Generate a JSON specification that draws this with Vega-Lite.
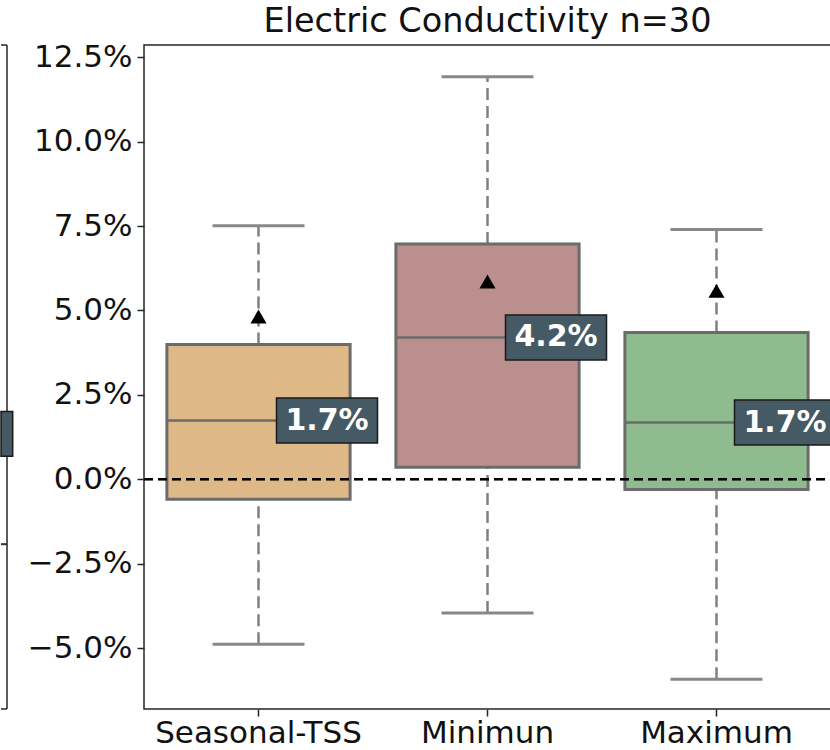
{
  "$schema": "https://vega.github.io/schema/vega-lite/v6.json",
  "padding": {"left": 0, "top": 3, "right": 0, "bottom": 0},
  "background": "white",
  "bounds": "flush",
  "spacing": 137,
  "config": {
    "font": "DejaVu Sans",
    "view": {"stroke": "#262626", "strokeWidth": 1.5},
    "axis": {"grid": false, "domain": false, "labelFont": "DejaVu Sans", "labelFontSize": 31, "labelColor": "#111111", "tickColor": "#262626", "tickWidth": 1.5, "tickSize": 7, "title": null, "labelLimit": 0}
  },
  "hconcat": [
    {
      "width": 6,
      "height": 664,
      "view": {"stroke": null},
      "data": {"values": [{"line": -1.92, "label_lo": 0.68, "label_hi": 2.01}]},
      "layer": [
        {"mark": {"type": "rule", "color": "#262626", "strokeWidth": 1.5},
         "encoding": {"x": {"datum": 0, "type": "quantitative", "scale": {"domain": [0, 1]}, "axis": null}, "x2": {"datum": 1}, "y": {"datum": 12.86, "type": "quantitative", "scale": {"domain": [-6.8, 12.86], "nice": false, "zero": false}, "axis": null}}},
        {"mark": {"type": "rule", "color": "#262626", "strokeWidth": 1.5},
         "encoding": {"x": {"datum": 0, "type": "quantitative"}, "x2": {"datum": 1}, "y": {"datum": -6.8, "type": "quantitative"}}},
        {"mark": {"type": "rule", "color": "#262626", "strokeWidth": 1.5},
         "encoding": {"x": {"datum": 1, "type": "quantitative"}, "y": {"datum": -6.8, "type": "quantitative"}, "y2": {"datum": 12.86}}},
        {"mark": {"type": "rule", "color": "#333333", "strokeWidth": 2},
         "encoding": {"x": {"datum": 0, "type": "quantitative"}, "x2": {"datum": 1}, "y": {"field": "line", "type": "quantitative"}}},
        {"mark": {"type": "rect", "color": "#455A64", "stroke": "#1a1a1a", "strokeWidth": 1.5},
         "encoding": {"x": {"datum": 0, "type": "quantitative"}, "x2": {"datum": 1.95}, "y": {"field": "label_lo", "type": "quantitative"}, "y2": {"field": "label_hi"}}}
      ]
    },
    {
      "width": 687,
      "height": 664,
      "title": {"text": "Electric Conductivity n=30", "fontSize": 33.5, "font": "DejaVu Sans", "fontWeight": "normal", "color": "#111111", "frame": "group", "anchor": "middle", "offset": 2},
      "data": {"values": [
        {"cat": "Seasonal-TSS", "lower": -4.88, "q1": -0.59, "median": 1.74, "q3": 3.99, "upper": 7.51, "mean": 4.82, "label": "1.7%"},
        {"cat": "Minimun", "lower": -3.96, "q1": 0.36, "median": 4.20, "q3": 6.97, "upper": 11.92, "mean": 5.86, "label": "4.2%"},
        {"cat": "Maximum", "lower": -5.92, "q1": -0.30, "median": 1.68, "q3": 4.35, "upper": 7.40, "mean": 5.58, "label": "1.7%"}
      ]},
      "encoding": {
        "x": {"field": "cat", "type": "nominal", "sort": ["Seasonal-TSS", "Minimun", "Maximum"], "scale": {"paddingInner": 0, "paddingOuter": 0}, "axis": {"labelAngle": 0, "labelPadding": 2, "labelBaseline": "top"}}
      },
      "layer": [
        {"mark": {"type": "rule", "color": "#808080", "strokeWidth": 2.5, "strokeDash": [12, 6]},
         "encoding": {"y": {"field": "q3", "type": "quantitative", "scale": {"domain": [-6.8, 12.86], "nice": false, "zero": false}, "axis": {"values": [-5, -2.5, 0, 2.5, 5, 7.5, 10, 12.5], "labelExpr": "format(datum.value, '.1f') + '%'", "labelPadding": 5}}, "y2": {"field": "upper"}}},
        {"mark": {"type": "rule", "color": "#808080", "strokeWidth": 2.5, "strokeDash": [12, 6]},
         "encoding": {"y": {"field": "lower", "type": "quantitative"}, "y2": {"field": "q1"}}},
        {"mark": {"type": "tick", "color": "#888888", "size": 92, "thickness": 3, "opacity": 1},
         "encoding": {"y": {"field": "upper", "type": "quantitative"}}},
        {"mark": {"type": "tick", "color": "#888888", "size": 92, "thickness": 3, "opacity": 1},
         "encoding": {"y": {"field": "lower", "type": "quantitative"}}},
        {"mark": {"type": "bar", "width": {"band": 0.8}, "stroke": "#6b6b6b", "strokeWidth": 3, "opacity": 1},
         "encoding": {"y": {"field": "q1", "type": "quantitative"}, "y2": {"field": "q3"},
           "color": {"field": "cat", "type": "nominal", "legend": null, "scale": {"domain": ["Seasonal-TSS", "Minimun", "Maximum"], "range": ["#DEB887", "#BC8F8F", "#8FBC8F"]}}}},
        {"mark": {"type": "tick", "color": "#6b6b6b", "size": 183, "thickness": 2.5, "opacity": 1},
         "encoding": {"y": {"field": "median", "type": "quantitative"}}},
        {"mark": {"type": "rule", "color": "#000000", "strokeWidth": 2, "strokeDash": [9, 5]},
         "encoding": {"y": {"datum": 0, "type": "quantitative"}, "x": {"value": 0}, "x2": {"value": 687}}},
        {"mark": {"type": "point", "shape": "triangle-up", "filled": true, "color": "#000000", "size": 260, "opacity": 1},
         "encoding": {"y": {"field": "mean", "type": "quantitative"}}},
        {"mark": {"type": "tick", "color": "#455A64", "size": 101, "thickness": 45, "xOffset": 68.5, "opacity": 1, "stroke": "#1a1a1a", "strokeWidth": 1.5},
         "encoding": {"y": {"field": "median", "type": "quantitative"}}},
        {"mark": {"type": "text", "color": "#ffffff", "fontSize": 30, "fontWeight": "bold", "font": "DejaVu Sans", "xOffset": 68.5, "align": "center", "baseline": "middle"},
         "encoding": {"y": {"field": "median", "type": "quantitative"}, "text": {"field": "label"}}}
      ]
    }
  ]
}
